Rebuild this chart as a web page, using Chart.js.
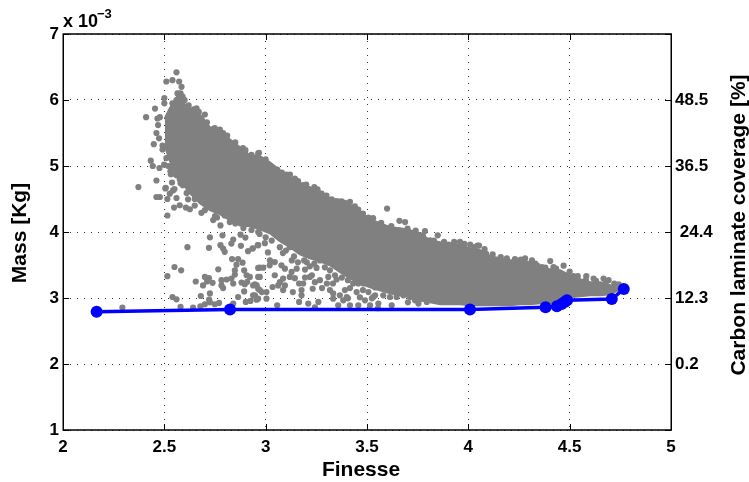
<!DOCTYPE html>
<html><head><meta charset="utf-8">
<style>html,body{margin:0;padding:0;background:#fff}canvas{display:block}</style>
<script src="https://cdn.jsdelivr.net/npm/chart.js@4"></script>
</head><body><canvas id="c" width="749" height="482"></canvas>
<script>
const xTicks=[2,2.5,3,3.5,4,4.5,5];
const yTicks=[1,2,3,4,5,6,7];
const coverageTicks=[2,3,4,5,6];
const coverageLabels=['0.2','12.3',' 24.4','36.5','48.5'];
const frontFinesse=[2.166,2.824,4.008,4.381,4.437,4.46,4.475,4.487,4.708,4.767];
const frontMass=[2.79,2.825,2.825,2.86,2.875,2.91,2.94,2.965,2.985,3.135];
const denseFinesse=[2.502,2.527,2.552,2.576,2.601,2.626,2.675,2.725,2.774,2.823,2.873,2.922,2.972,3.021,3.07,3.12,3.169,3.218,3.268,3.317,3.367,3.416,3.465,3.515,3.564,3.614,3.663,3.712,3.762,3.811,3.861,3.91,3.959,4.009,4.058,4.107,4.157,4.206,4.256,4.305,4.354,4.404,4.453,4.503,4.552,4.601,4.651,4.70,4.74];
const denseUpper=[5.72,5.875,5.996,6.117,5.935,5.875,5.784,5.587,5.496,5.405,5.284,5.163,5.147,5.056,4.935,4.829,4.738,4.678,4.617,4.511,4.435,4.405,4.314,4.193,4.132,4.072,4.056,4.026,3.981,3.874,3.844,3.829,3.799,3.753,3.723,3.632,3.602,3.572,3.572,3.541,3.45,3.435,3.42,3.344,3.284,3.238,3.238,3.193,3.147];
const denseLower=[5.3,5.086,4.905,4.81,4.69,4.59,4.435,4.33,4.27,4.18,4.10,4.087,4.041,3.981,3.86,3.769,3.663,3.602,3.556,3.496,3.39,3.299,3.223,3.162,3.117,3.072,3.041,3.011,2.966,2.935,2.905,2.905,2.905,2.89,2.89,2.89,2.89,2.89,2.905,2.905,2.92,2.92,2.966,3.011,3.026,3.041,3.041,3.056,3.117];
const samples=[[2.56,6.42],[2.51,6.28],[2.54,6.30],[2.573,6.28],[2.585,6.20],[2.50,6.03],[2.50,5.95],[2.454,5.87],[2.41,5.74],[2.466,5.72],[2.478,5.74],[2.469,5.62],[2.461,5.50],[2.474,5.42],[2.448,5.33],[2.491,5.31],[2.491,5.25],[2.51,5.12],[2.433,5.08],[2.443,5.0],[2.476,4.97],[2.499,5.02],[2.461,4.78],[2.372,4.68],[2.507,4.67],[2.532,4.875],[2.555,4.875],[2.538,4.75],[2.576,4.80],[2.55,4.65],[2.591,4.71],[2.659,5.875],[2.70,5.78],[2.683,5.71],[2.749,5.575],[2.774,5.55],[2.963,5.19],[2.888,5.27],
[2.58,6.1],[2.59,6.05],[2.6,6.0],[2.565,6.1],[2.56,6.0],[2.54,5.95],[2.537,5.09],[2.542,4.98],[2.561,4.86],
[2.461,4.53],[2.478,4.53],[2.505,4.66],[2.515,4.50],[2.527,4.58],[2.543,4.63],[2.56,4.515],[2.548,4.37],[2.576,4.405],[2.606,4.37],[2.626,4.345],[2.617,4.495],[2.61,4.59],[2.515,4.25],[2.683,4.29],[2.741,4.18],[2.76,4.22],[2.777,4.10],[2.823,4.15],[2.798,4.25],[2.725,3.92],[2.787,3.95],[2.876,3.96],[2.90,3.915],[2.963,4.0],[2.614,3.77],[2.72,3.76],[2.777,3.80],[2.79,3.75],[2.798,3.70],[2.831,3.825],[2.84,3.885],[2.878,3.79],[2.913,3.71],[2.935,3.75],[2.963,3.80],[2.834,3.59],[2.864,3.59],[2.856,3.505],[2.886,3.535],[2.55,3.47],[2.583,3.42],[2.515,3.33],[2.766,3.435],[2.848,3.42],[2.894,3.42],[2.963,3.455],[2.848,3.355],[2.906,3.345],[2.922,3.32],[2.963,3.32],[2.70,3.32],[2.72,3.30],[2.655,3.25],[2.691,3.19],[2.711,3.25],[2.738,3.23],[2.782,3.27],[2.807,3.28],[2.831,3.295],[2.782,3.19],[2.79,3.15],[2.84,3.22],[2.881,3.235],[2.909,3.245],[2.897,3.21],[2.947,3.205],[2.963,3.14],[2.894,3.10],[2.54,3.015],[2.56,2.98],[2.68,3.03],[2.725,3.07],[2.721,2.975],[2.864,3.015],[2.938,3.04],[2.955,2.975],[2.902,2.94],[2.925,2.955],[2.58,2.865],[2.642,2.855],[2.678,2.875],[2.70,2.905],[2.725,2.935],[2.749,2.905],[2.77,2.925],[2.84,2.915],[2.293,2.855],
[2.971,3.46],[2.988,3.46],[2.971,3.32],[3.045,3.345],[3.02,3.495],[3.045,3.545],[3.078,3.495],[3.095,3.445],[3.128,3.395],[3.153,3.445],[3.194,3.43],[3.218,3.48],[3.251,3.455],[2.938,3.19],[2.947,3.04],[2.963,2.99],[2.971,3.12],[3.004,3.09],[3.004,2.99],[3.034,3.167],[3.062,3.19],[3.086,3.295],[3.086,3.12],[3.119,3.32],[3.165,3.22],[3.185,3.22],[3.177,3.12],[3.177,3.04],[3.218,3.32],[3.232,3.14],[3.268,3.27],[3.309,3.32],[3.317,3.12],[3.333,3.07],[3.35,3.28],[3.391,3.12],[3.40,3.015],[3.432,3.22],[3.449,3.09],[3.482,3.22],[3.507,3.09],[3.457,3.22],[3.165,2.94],[3.21,2.915],[3.26,2.94],[3.358,2.89],[3.057,2.89],[3.333,2.99],[3.243,2.86],[3.383,2.965],[3.457,2.89],[3.416,2.89],[3.49,2.965],[3.54,3.04],[3.556,2.915],[3.515,2.89],
[2.937,3.753],[2.961,3.80],[2.996,3.83],[3.011,3.69],[3.021,3.57],[3.07,3.77],[3.085,3.68],[3.129,3.57],[3.119,3.77],[3.159,3.54],[3.203,3.54],[3.268,3.57],[3.292,3.465],[3.317,3.42],[3.342,3.345],[3.376,3.31],[3.406,3.27],[3.07,3.24],[3.095,3.19],[3.144,3.30],[3.194,3.31],[3.228,3.345],[3.302,3.22],[3.332,3.22],[3.416,3.15],[3.48,3.12],[3.54,3.16],[2.956,3.19],[2.981,3.09],[3.134,3.09],[3.243,3.24],[3.278,3.15],[3.366,3.04],[3.406,2.995],[3.465,3.01],[3.524,2.995],
[3.622,2.89],[3.554,2.845],[3.646,3.015],[3.58,3.04],[3.613,3.015],[3.679,3.04],[3.712,3.015],[3.737,2.965],[3.77,2.99],[3.795,2.94],[3.531,3.015],[3.754,2.915],[3.702,2.935],
[3.599,4.355],[3.66,4.17],[3.688,4.15],[3.786,4.015],[3.775,3.95],[3.849,3.95],[3.902,3.81],[3.959,3.85],[4.009,3.81],[4.045,3.795],[4.053,3.795],[3.811,3.875],[4.088,3.67],[4.16,3.62],[4.404,3.56],[4.314,3.57],[4.433,3.445],[4.47,3.49],[4.582,3.33],[4.618,3.295],[4.667,3.295],[4.692,3.27],[4.742,3.205],[4.259,3.58],[4.33,3.52],[4.363,3.47],[4.519,3.33],[4.552,3.24],
[2.967,5.2],[3.0,5.10],[3.034,4.935],[3.057,4.945],[3.103,4.87],[3.144,4.81],[3.16,4.77],[3.185,4.71],[3.136,4.68],[3.21,4.645],[3.256,4.645],[3.276,4.58],[3.326,4.495],[3.358,4.465],[3.375,4.465],[3.416,4.455],[3.457,4.34],[3.507,4.22],
[2.62,5.92],[2.645,5.86],[2.67,5.82],[2.71,5.66],[2.74,5.56],[2.79,5.50],[2.81,5.46],[2.85,5.36],[2.90,5.24],[2.93,5.17],[3.01,5.02],[3.08,4.90],[3.12,4.87],[3.20,4.72],[3.24,4.68],[3.30,4.55],[3.345,4.47],[3.39,4.44],[3.44,4.39],[3.48,4.28],[3.53,4.21],[3.57,4.14],[3.62,4.09],[3.70,4.05],[3.74,4.02],[3.83,3.87],[3.88,3.85],[3.93,3.85],[3.98,3.82],[4.03,3.77],[4.08,3.74],[4.12,3.66],[4.19,3.60],[4.23,3.59],[4.28,3.60],[4.34,3.49],[4.38,3.46],[4.42,3.47],[4.50,3.40],[4.54,3.33],[4.58,3.27],[4.63,3.26],[4.68,3.25],[4.72,3.22],
[2.85,4.13],[2.89,4.06],[2.93,4.03],[2.97,3.97],[3.0,3.92],[3.03,3.87],[2.65,4.4],[2.70,4.33],[2.75,4.24],[3.1,3.72],[3.14,3.63],[3.19,3.57],[3.24,3.52],[2.52,5.0],[2.53,4.92],[2.58,4.74],[2.62,4.62],[2.65,4.5]];

const GREY='#808080', BLUE='#0000ff';
const FONT='"Liberation Sans", Arial, sans-serif';
const zip=(xs,ys)=>xs.map((x,i)=>({x:x,y:ys[i]}));

const decor={
  id:'decor',
  afterDatasetsDraw(chart){
    const {ctx,chartArea:a,scales:s}=chart;
    ctx.save();
    ctx.strokeStyle='#000';
    ctx.lineWidth=1;
    ctx.beginPath();
    xTicks.forEach(v=>{const p=Math.round(s.x.getPixelForValue(v))+.5;
      ctx.moveTo(p,a.bottom);ctx.lineTo(p,a.bottom-6);ctx.moveTo(p,a.top);ctx.lineTo(p,a.top+6);});
    yTicks.forEach(v=>{const p=Math.round(s.y.getPixelForValue(v))+.5;
      ctx.moveTo(a.left,p);ctx.lineTo(a.left+6,p);ctx.moveTo(a.right,p);ctx.lineTo(a.right-6,p);});
    ctx.stroke();
    ctx.lineWidth=1.5;
    ctx.strokeRect(a.left+.25,a.top,a.right-a.left,a.bottom-a.top);
    ctx.fillStyle='#000';
    ctx.textBaseline='alphabetic';
    ctx.textAlign='left';
    ctx.font='bold 18px '+FONT;
    ctx.fillText('x 10',63,27);
    ctx.font='bold 13px '+FONT;
    ctx.fillText('\u22123',97,18);
    ctx.font='bold 21px '+FONT;
    ctx.textAlign='center';
    ctx.fillText('Finesse',361,476);
    ctx.save();ctx.translate(26,233);ctx.rotate(-Math.PI/2);
    ctx.fillText('Mass [Kg]',0,0);ctx.restore();
    ctx.save();ctx.translate(745,225);ctx.rotate(-Math.PI/2);
    ctx.fillText('Carbon laminate coverage [%]',0,0);ctx.restore();
    ctx.restore();
  }
};

new Chart(document.getElementById('c'),{
  type:'scatter',
  data:{datasets:[
    {label:'Pareto front',data:zip(frontFinesse,frontMass),showLine:true,borderColor:BLUE,backgroundColor:BLUE,borderWidth:3.5,pointRadius:6,pointBackgroundColor:BLUE,pointBorderWidth:0,order:0},
    {label:'Samples',data:samples.map(p=>({x:p[0],y:p[1]})),backgroundColor:GREY,pointBackgroundColor:GREY,pointRadius:3.1,pointBorderWidth:0,order:1},
    {label:'Dense upper',data:zip(denseFinesse,denseUpper),showLine:true,borderWidth:2,borderColor:GREY,pointRadius:0,fill:'+1',backgroundColor:GREY,order:2},
    {label:'Dense lower',data:zip(denseFinesse,denseLower),showLine:true,borderWidth:2,borderColor:GREY,pointRadius:0,fill:false,order:3}
  ]},
  options:{
    responsive:false,animation:false,
    layout:{padding:{left:0,top:34,right:0,bottom:0}},
    plugins:{legend:{display:false},tooltip:{enabled:false}},
    scales:{
      x:{type:'linear',min:2,max:5,
        afterBuildTicks:s=>{s.ticks=xTicks.map(v=>({value:v}));},
        afterFit:s=>{s.height=52;},
        border:{display:false,dash:[1,6]},
        grid:{color:'#333',lineWidth:1,drawTicks:false},
        ticks:{padding:7,color:'#000',maxRotation:0,autoSkip:false,font:{family:FONT,weight:'bold',size:17},callback:v=>String(v)}
      },
      y:{type:'linear',position:'left',min:1,max:7,
        afterBuildTicks:s=>{s.ticks=yTicks.map(v=>({value:v}));},
        afterFit:s=>{s.width=63;},
        border:{display:false,dash:[1,6]},
        grid:{color:'#333',lineWidth:1,drawTicks:false},
        ticks:{padding:4,color:'#000',autoSkip:false,font:{family:FONT,weight:'bold',size:17},callback:v=>String(v)}
      },
      y1:{type:'linear',position:'right',min:1,max:7,
        afterBuildTicks:s=>{s.ticks=coverageTicks.map(v=>({value:v}));},
        afterFit:s=>{s.width=78;},
        border:{display:false},
        grid:{display:false,drawTicks:false},
        ticks:{padding:4,color:'#000',autoSkip:false,font:{family:FONT,weight:'bold',size:17},callback:v=>coverageLabels[coverageTicks.indexOf(v)]}
      }
    }
  },
  plugins:[decor]
});
</script></body></html>
